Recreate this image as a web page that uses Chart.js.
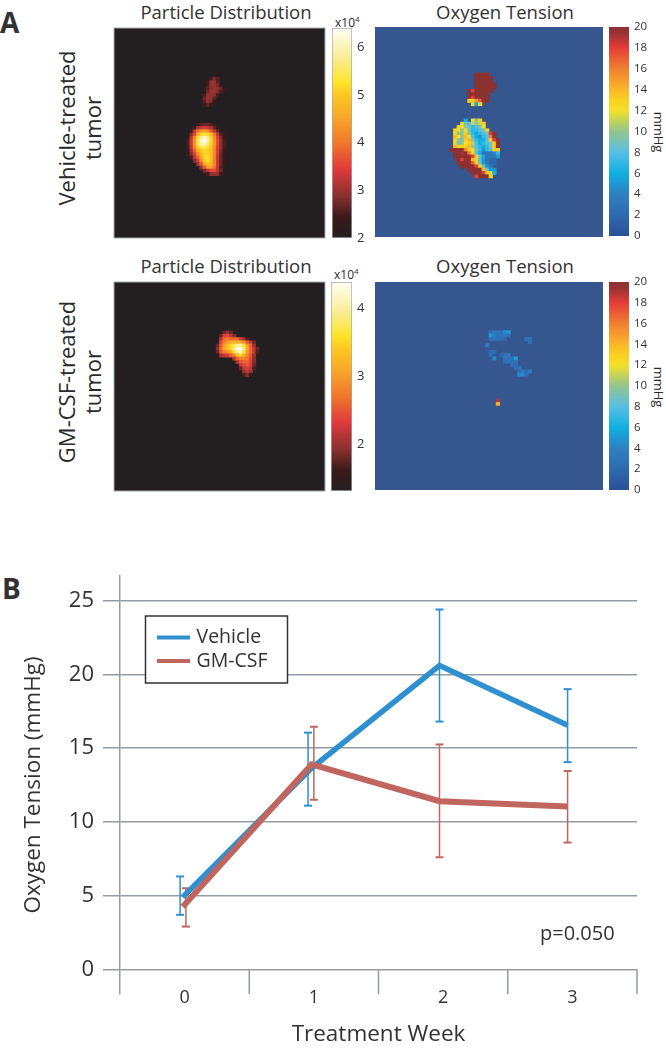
<!DOCTYPE html>
<html>
<head>
<meta charset="utf-8">
<title>Particle distribution and oxygen tension</title>
<script src="https://cdn.jsdelivr.net/npm/chart.js@4"></script>
<style>
    html, body { margin: 0; padding: 0; background: #ffffff; }
    #page { position: relative; width: 666px; height: 1050px; overflow: hidden; background: #ffffff;
            font-family: "Open Sans", sans-serif; color: #2b2a2a; }
    #page canvas { position: absolute; }
    #page canvas.map { filter: blur(0.5px); }
    .note { position: absolute; white-space: nowrap; line-height: 1; }
    .panel { font-size: 28px; font-weight: 700; color: #333132; }
    .side { font-size: 22px; transform: translate(-50%, -50%) rotate(-90deg); }
    .unit { font-size: 13px; transform: translate(-50%, -50%) rotate(90deg); }
    .exp { font-size: 12px; }
    .exp sup { font-size: 8px; line-height: 0; }
    .maptitle { font-size: 18.5px; color: #333132; transform: translate(-50%, -50%); }
</style>
</head>
<body>
<div id="page">
    <div class="note panel" style="left:0px;top:8px">A</div>
    <div class="note panel" style="left:2px;top:574px">B</div>
    <div class="note side" style="left:66px;top:128px">Vehicle-treated</div>
    <div class="note side" style="left:92px;top:128px">tumor</div>
    <div class="note side" style="left:66px;top:382px">GM-CSF-treated</div>
    <div class="note side" style="left:92px;top:382px">tumor</div>
    <div class="note maptitle" style="left:226px;top:12px">Particle Distribution</div>
    <div class="note maptitle" style="left:505px;top:12px">Oxygen Tension</div>
    <div class="note maptitle" style="left:226px;top:265.5px">Particle Distribution</div>
    <div class="note maptitle" style="left:505px;top:265.5px">Oxygen Tension</div>
    <div class="note exp" style="left:335px;top:17px">x10<sup>4</sup></div>
    <div class="note exp" style="left:334px;top:269px">x10<sup>4</sup></div>
    <div class="note unit" style="left:658px;top:132px">mmHg</div>
    <div class="note unit" style="left:658px;top:387px">mmHg</div>
</div>
<script>
// Panel B values
const weeks = [0, 1, 2, 3];
const weekEdges = [0.5, 1.5, 2.5, 3.5];
const tensionTicks = [0, 5, 10, 15, 20, 25];
const vehicleX = [-0.015, 0.983, 1.972, 2.963];
const vehicleTension = [4.9, 13.65, 20.6, 16.55];
const vehicleErrX = [-0.035, 0.955, 1.972, 2.963];
const vehicleErrHigh = [6.3, 16.05, 24.4, 19.0];
const vehicleErrLow = [3.7, 11.1, 16.8, 14.05];
const gmcsfX = [-0.015, 0.983, 1.972, 2.963];
const gmcsfTension = [4.25, 13.9, 11.4, 11.05];
const gmcsfErrX = [0.01, 1.0, 1.972, 2.963];
const gmcsfErrHigh = [5.5, 16.45, 15.25, 13.45];
const gmcsfErrLow = [2.9, 11.5, 7.6, 8.6];

// Panel A colour bar ticks and ranges
const vehicleParticleTicks = [2, 3, 4, 5, 6];
const vehicleParticleRange = [2, 6.41];
const gmcsfParticleTicks = [2, 3, 4];
const gmcsfParticleRange = [1.32, 4.38];
const oxygenTicks = [0, 2, 4, 6, 8, 10, 12, 14, 16, 18, 20];
const oxygenRange = [0, 20];

// Map cells, each row is [row, first column, values...]; the rest of the 64x64 map is background
const vehicleParticleRows = [
    [15, 29, 2.5, 2.8, 2.6],
    [16, 28, 2.5, 2.9, 3.0, 2.6],
    [17, 28, 2.5, 2.9, 3.0, 2.8, 2.4],
    [18, 28, 2.6, 2.9, 3.0, 2.9, 2.7, 2.4],
    [19, 28, 2.7, 3.0, 3.0, 2.8, 2.5],
    [20, 27, 2.5, 2.9, 3.0, 2.9, 2.5],
    [21, 27, 2.7, 3.0, 2.9, 2.6],
    [22, 27, 2.6, 2.9, 2.8, 2.4],
    [23, 27, 2.4, 2.6, 2.4],
    [29, 25, 2.4, 2.6, 2.7, 2.7, 2.6, 2.4],
    [30, 24, 2.5, 3.0, 3.3, 3.4, 3.3, 3.1, 2.7, 2.4],
    [31, 23, 2.5, 3.2, 4.0, 4.4, 4.5, 4.3, 3.8, 3.2, 2.7, 2.3],
    [32, 23, 2.8, 3.6, 4.6, 5.1, 5.4, 5.2, 4.8, 4.1, 3.3, 2.6, 2.3],
    [33, 22, 2.4, 3.2, 4.2, 5.2, 5.8, 6.1, 5.8, 5.1, 4.3, 3.5, 2.8, 2.4],
    [34, 22, 2.5, 3.3, 4.4, 5.4, 6.1, 6.4, 6.0, 5.2, 4.4, 3.6, 2.9, 2.5],
    [35, 22, 2.5, 3.3, 4.3, 5.3, 5.9, 6.1, 5.6, 5.1, 4.4, 3.6, 2.9, 2.5],
    [36, 22, 2.5, 3.2, 4.1, 5.0, 5.4, 5.5, 5.2, 5.0, 4.3, 3.5, 2.9, 2.5],
    [37, 22, 2.4, 3.0, 3.8, 4.6, 5.0, 5.1, 5.1, 4.9, 4.3, 3.5, 2.8, 2.4],
    [38, 22, 2.3, 2.8, 3.5, 4.2, 4.7, 5.1, 5.1, 4.9, 4.2, 3.4, 2.7, 2.3],
    [39, 23, 2.5, 3.2, 3.8, 4.5, 5.1, 5.2, 4.9, 4.2, 3.3, 2.7, 2.3],
    [40, 24, 2.8, 3.4, 4.2, 5.0, 5.2, 4.9, 4.2, 3.3, 2.7, 2.3],
    [41, 25, 3.0, 3.7, 4.6, 5.0, 4.7, 4.2, 3.3, 2.7, 2.3],
    [42, 26, 3.0, 3.8, 4.4, 4.5, 4.0, 3.3, 2.6],
    [43, 27, 2.8, 3.2, 3.6, 3.6, 3.2, 2.7],
    [44, 28, 2.5, 2.9, 3.0, 2.9, 2.5]
];

const vehicleOxygenRows = [
    [14, 28, 20, 20, 20, 20],
    [15, 28, 20, 20, 20, 20, 20],
    [16, 28, 20, 20, 20, 20, 20],
    [17, 28, 20, 20, 20, 20, 20, 20],
    [18, 28, 20, 20, 20, 20, 20, 20],
    [19, 26, 20, 18, 20, 20, 20, 20, 20],
    [20, 26, 20, 20, 20, 20, 20, 20],
    [21, 26, 20, 18, 20, 20, 20, 20],
    [22, 26, 13, 13, 15, 17, 20, 20],
    [23, 27, 13, 6, 13],
    [28, 25, 6],
    [28, 27, 12, 10, 13],
    [29, 24, 13, 9, 8, 11, 10, 11, 13],
    [30, 23, 13, 12, 10, 9, 7, 8, 9, 12],
    [31, 22, 13, 12, 10, 12, 9, 7, 7, 8, 9, 13],
    [32, 22, 13, 10, 10, 13, 10, 7, 6, 7, 8, 9, 18, 20],
    [33, 22, 14, 12, 10, 14, 12, 8, 6, 5, 7, 8, 16, 20],
    [34, 22, 13, 10, 9, 13, 14, 10, 7, 6, 6, 8, 13, 18, 20],
    [35, 22, 13, 9, 10, 12, 13, 11, 8, 6, 7, 8, 9, 13, 20],
    [36, 22, 14, 13, 13, 13, 14, 10, 8, 7, 6, 7, 9, 13, 20],
    [37, 21, 20, 20, 20, 20, 16, 13, 12, 9, 7, 5, 7, 8, 13, 13],
    [38, 22, 20, 20, 19, 20, 16, 13, 8, 6, 3, 3, 3, 4, 7],
    [39, 22, 20, 20, 20, 20, 20, 18, 13, 9, 6, 3, 3, 3, 5],
    [40, 23, 20, 18, 20, 20, 14, 13, 8, 5, 3, 2, 2],
    [41, 23, 20, 20, 20, 20, 17, 13, 9, 5, 3, 2, 2],
    [42, 24, 20, 20, 20, 20, 18, 13, 9, 5, 3],
    [43, 26, 20, 20, 20, 20, 14, 9, 5, 5],
    [44, 27, 20, 20, 20, 18, 13, 13, 6],
    [45, 28, 18, 20, 20, 20, 13]
];

const gmcsfParticleRows = [
    [15, 33, 1.8, 2.0, 1.8],
    [16, 32, 1.8, 2.3, 2.4, 2.2, 1.9],
    [17, 32, 2.1, 2.6, 2.7, 2.6, 2.6, 2.6, 2.3, 2.0, 1.7],
    [18, 32, 2.4, 2.8, 3.0, 3.1, 3.2, 3.2, 3.1, 2.9, 2.5, 2.2, 1.8],
    [19, 31, 1.8, 2.5, 3.0, 3.3, 3.5, 3.7, 4.0, 4.0, 3.6, 3.0, 2.6, 2.0],
    [20, 31, 1.9, 2.6, 3.1, 3.3, 3.5, 3.8, 4.3, 4.38, 3.8, 3.1, 2.6, 2.2, 1.8],
    [21, 31, 1.8, 2.5, 2.8, 2.9, 3.1, 3.6, 4.0, 4.1, 3.6, 3.0, 2.6, 2.2, 1.7],
    [22, 31, 1.6, 2.0, 2.2, 2.3, 2.5, 2.8, 3.3, 3.5, 3.1, 2.8, 2.5, 2.0],
    [23, 36, 2.1, 2.6, 2.8, 2.8, 2.7, 2.4, 1.9],
    [24, 37, 2.1, 2.5, 2.6, 2.6, 2.4, 1.9],
    [25, 38, 2.2, 2.4, 2.5, 2.3, 1.8],
    [26, 38, 1.8, 2.2, 2.3, 2.2, 1.7],
    [27, 39, 2.0, 2.2, 2.0],
    [28, 39, 1.7, 1.9, 1.6]
];

const gmcsfOxygenRows = [
    [15, 32, 2.5, 3, 3, 3, 4.5, 5.5],
    [16, 32, 5.5, 3.5, 3, 3, 3.5, 2.5],
    [17, 32, 3, 3, 2.5, 2.5, 2],
    [17, 42, 2.5, 3],
    [18, 43, 2.5],
    [19, 31, 3.5],
    [21, 32, 2.5, 2.5],
    [22, 32, 2.5],
    [22, 35, 2, 3, 3],
    [23, 33, 4.5],
    [23, 36, 3, 3, 2.5, 5.5],
    [24, 36, 2.5, 3, 2.5, 3],
    [25, 38, 2.5, 2.5],
    [26, 39, 2.5, 3],
    [27, 40, 2.5, 3, 2, 3.5],
    [28, 40, 4.5, 4.5, 2.5],
    [36, 34, 19],
    [37, 34, 14.5]
];

// Colour ramps as [fraction of range, colour]
const hotRamp = [
    [0, '#231f20'], [0.1, '#3a1a1a'], [0.2, '#8a3030'], [0.33, '#e03a3c'], [0.45, '#f0762c'],
    [0.58, '#f9a82a'], [0.68, '#fcc722'], [0.74, '#fde428'], [0.85, '#f8ec90'], [1, '#fffff5']
];
const jetRamp = [
    [0, '#2a4f95'], [0.1, '#2e6ab0'], [0.2, '#2f80c2'], [0.3, '#0fb0e2'], [0.4, '#57bfe6'],
    [0.5, '#93c58c'], [0.6, '#f1e02a'], [0.65, '#fcd021'], [0.7, '#fbb52a'], [0.8, '#f08030'],
    [0.9, '#e53c38'], [0.97, '#9a3232'], [1, '#8c3230']
];

function hexToRgb(hex) {
    return [1, 3, 5].map(i => parseInt(hex.slice(i, i + 2), 16));
}

// Look up a value in a colour ramp
function rampColor(ramp, range, value) {
    const t = Math.min(1, Math.max(0, (value - range[0]) / (range[1] - range[0])));
    for (let i = 1; i < ramp.length; i++) {
        if (t <= ramp[i][0]) {
            const f = (t - ramp[i - 1][0]) / (ramp[i][0] - ramp[i - 1][0]);
            const a = hexToRgb(ramp[i - 1][1]);
            const b = hexToRgb(ramp[i][1]);
            const rgb = a.map((c, k) => Math.round(c + (b[k] - c) * f));
            return `rgb(${rgb[0]},${rgb[1]},${rgb[2]})`;
        }
    }
    return ramp[ramp.length - 1][1];
}

function addCanvas(left, top, width, height, className) {
    const canvas = document.createElement('canvas');
    canvas.width = width;
    canvas.height = height;
    canvas.style.left = left + 'px';
    canvas.style.top = top + 'px';
    canvas.style.width = width + 'px';
    canvas.style.height = height + 'px';
    if (className) canvas.className = className;
    document.getElementById('page').appendChild(canvas);
    return canvas.getContext('2d');
}

// Flat field behind the sparse cells, plus the thin frame some maps have
const mapField = {
    id: 'mapField',
    beforeDatasetsDraw(chart, args, opts) {
        const { ctx, chartArea: a } = chart;
        ctx.save();
        ctx.fillStyle = opts.color;
        ctx.fillRect(a.left, a.top, a.width, a.height);
        ctx.restore();
    },
    afterDatasetsDraw(chart, args, opts) {
        if (!opts.frame) return;
        const { ctx, chartArea: a } = chart;
        ctx.save();
        ctx.strokeStyle = opts.frame;
        ctx.lineWidth = 1;
        ctx.strokeRect(a.left, a.top, a.width, a.height);
        ctx.restore();
    }
};

const mapColumns = Array.from({ length: 64 }, (_, i) => i);

// One 64x64 map; cells are floating bars
function drawMap(cfg) {
    const cells = [];
    cfg.rows.forEach(r => {
        r.slice(2).forEach((v, i) => cells.push({ x: r[1] + i, y: [r[0], r[0] + 1], v: v }));
    });
    new Chart(addCanvas(cfg.left - 2, cfg.top - 2, cfg.width + 4, cfg.height + 4, 'map'), {
        type: 'bar',
        plugins: [mapField],
        data: {
            labels: mapColumns,
            datasets: [{
                data: cells,
                backgroundColor: ctx => rampColor(cfg.ramp, cfg.range, ctx.raw ? ctx.raw.v : cfg.range[0]),
                borderWidth: 0,
                barPercentage: 1,
                categoryPercentage: 1
            }]
        },
        options: {
            responsive: false,
            animation: false,
            layout: { padding: 2 },
            scales: {
                x: { display: false },
                y: { display: false, reverse: true, min: 0, max: 64 }
            },
            plugins: {
                legend: { display: false },
                tooltip: { enabled: false },
                mapField: { color: cfg.field, frame: cfg.frame }
            }
        }
    });
}

// Colour bar with its axis on the right
function drawColorBar(cfg) {
    new Chart(addCanvas(cfg.left, cfg.top - 10, 52, cfg.height + 20), {
        type: 'bar',
        data: {
            labels: [''],
            datasets: [{
                data: [cfg.range],
                borderWidth: cfg.frame ? 1 : 0,
                borderColor: cfg.frame || 'transparent',
                borderSkipped: false,
                barPercentage: 1,
                categoryPercentage: 1,
                backgroundColor: ctx => {
                    const area = ctx.chart.chartArea;
                    if (!area) return cfg.ramp[0][1];
                    const g = ctx.chart.ctx.createLinearGradient(0, area.bottom, 0, area.top);
                    cfg.ramp.forEach(s => g.addColorStop(s[0], s[1]));
                    return g;
                }
            }]
        },
        options: {
            responsive: false,
            animation: false,
            layout: { padding: { top: 10, bottom: 10 } },
            scales: {
                x: { display: false },
                y: {
                    position: 'right',
                    min: cfg.range[0],
                    max: cfg.range[1],
                    afterFit: axis => {
                        axis.width = 52 - cfg.barWidth;
                        axis.paddingTop = 0;
                        axis.paddingBottom = 0;
                    },
                    afterBuildTicks: axis => { axis.ticks = cfg.ticks.map(v => ({ value: v })); },
                    grid: { display: false, drawTicks: false },
                    border: { display: false },
                    ticks: {
                        color: '#333132',
                        padding: 5,
                        font: { family: '"Open Sans"', size: cfg.tickSize }
                    }
                }
            },
            plugins: { legend: { display: false }, tooltip: { enabled: false } }
        }
    });
}

drawMap({ rows: vehicleParticleRows, ramp: hotRamp, range: vehicleParticleRange, field: '#231f20', frame: '#a7a9ac',
    left: 114, top: 28, width: 211, height: 210 });
drawMap({ rows: vehicleOxygenRows, ramp: jetRamp, range: oxygenRange, field: '#35568f',
    left: 375, top: 27, width: 228, height: 210 });
drawMap({ rows: gmcsfParticleRows, ramp: hotRamp, range: gmcsfParticleRange, field: '#231f20', frame: '#a7a9ac',
    left: 114, top: 282, width: 211, height: 209 });
drawMap({ rows: gmcsfOxygenRows, ramp: jetRamp, range: oxygenRange, field: '#35568f',
    left: 375, top: 282, width: 228, height: 208 });

drawColorBar({ left: 332, top: 28, height: 210, barWidth: 20, tickSize: 13, ramp: hotRamp, range: vehicleParticleRange, ticks: vehicleParticleTicks, frame: '#a7a9ac' });
drawColorBar({ left: 609, top: 27, height: 209, barWidth: 20, tickSize: 11.5, ramp: jetRamp, range: oxygenRange, ticks: oxygenTicks });
drawColorBar({ left: 331, top: 282, height: 209, barWidth: 21, tickSize: 13, ramp: hotRamp, range: gmcsfParticleRange, ticks: gmcsfParticleTicks, frame: '#a7a9ac' });
drawColorBar({ left: 609, top: 282, height: 208, barWidth: 20, tickSize: 11.5, ramp: jetRamp, range: oxygenRange, ticks: oxygenTicks });

// Panel B: week separators under zero, legend box and the p value
const gridGray = '#939ba3';
const seriesNames = ['Vehicle', 'GM-CSF'];
const seriesColors = ['#2f8fcf', '#c0665f'];

const panelExtras = {
    id: 'panelExtras',
    afterDatasetsDraw(chart) {
        const { ctx, scales, chartArea } = chart;
        ctx.save();
        ctx.strokeStyle = gridGray;
        ctx.lineWidth = 1.5;
        weekEdges.forEach(w => {
            const px = scales.x.getPixelForValue(w);
            ctx.beginPath();
            ctx.moveTo(px, scales.y.getPixelForValue(0));
            ctx.lineTo(px, chartArea.bottom);
            ctx.stroke();
        });

        ctx.fillStyle = '#ffffff';
        ctx.strokeStyle = '#333132';
        ctx.fillRect(145.5, 56, 142, 67);
        ctx.strokeRect(145.5, 56, 142, 67);
        ctx.font = '19.5px "Open Sans"';
        ctx.textBaseline = 'middle';
        seriesNames.forEach((name, i) => {
            const y = 77.5 + i * 23.5;
            ctx.strokeStyle = seriesColors[i];
            ctx.lineWidth = 4;
            ctx.beginPath();
            ctx.moveTo(157, y);
            ctx.lineTo(190, y);
            ctx.stroke();
            ctx.fillStyle = '#333132';
            ctx.fillText(name, 196.5, y);
        });

        ctx.font = '20px "Open Sans"';
        ctx.fillText('p=0.050', 540, 374);
        ctx.restore();
    }
};

// One error bar per week, broken up by null points
function errorBars(xs, highs, lows, color) {
    const points = [];
    xs.forEach((x, i) => {
        points.push({ x: x, y: highs[i] }, { x: x, y: lows[i] }, { x: x, y: null });
    });
    return {
        data: points,
        borderColor: color,
        backgroundColor: color,
        borderWidth: 1.5,
        pointStyle: 'line',
        pointRadius: 4,
        pointBorderWidth: 2,
        pointBorderColor: color,
        spanGaps: false,
        order: 3
    };
}

new Chart(addCanvas(0, 560, 666, 490), {
    type: 'line',
    plugins: [panelExtras],
    data: {
        datasets: [
            errorBars(vehicleErrX, vehicleErrHigh, vehicleErrLow, seriesColors[0]),
            errorBars(gmcsfErrX, gmcsfErrHigh, gmcsfErrLow, seriesColors[1]),
            {
                label: seriesNames[0],
                data: vehicleX.map((x, i) => ({ x: x, y: vehicleTension[i] })),
                borderColor: seriesColors[0],
                borderWidth: 5.5,
                pointRadius: 0,
                order: 2
            },
            {
                label: seriesNames[1],
                data: gmcsfX.map((x, i) => ({ x: x, y: gmcsfTension[i] })),
                borderColor: seriesColors[1],
                borderWidth: 6,
                pointRadius: 0,
                order: 1
            }
        ]
    },
    options: {
        responsive: false,
        animation: false,
        layout: { padding: { top: 16, right: 29 } },
        scales: {
            x: {
                type: 'linear',
                min: -0.5,
                max: 3.5,
                afterFit: axis => { axis.height = 56; },
                afterBuildTicks: axis => { axis.ticks = weeks.map(v => ({ value: v })); },
                grid: { display: false, drawTicks: false },
                border: { display: false },
                ticks: {
                    color: '#333132',
                    // mirror keeps the labels from being clipped to the axis box
                    mirror: true,
                    padding: -15,
                    maxRotation: 0,
                    font: { family: '"Open Sans"', size: 18 }
                },
                title: {
                    display: true,
                    text: 'Treatment Week',
                    color: '#333132',
                    padding: { top: 0, bottom: 2 },
                    font: { family: '"Open Sans"', size: 22.5 }
                }
            },
            y: {
                min: -1.67,
                max: 26.67,
                afterFit: axis => {
                    axis.width = 120;
                    axis.paddingTop = 0;
                    axis.paddingBottom = 0;
                },
                afterBuildTicks: axis => { axis.ticks = tensionTicks.map(v => ({ value: v })); },
                grid: { color: gridGray, lineWidth: 1.5, tickLength: 17, tickColor: gridGray },
                border: { display: true, color: gridGray, width: 1.5 },
                ticks: {
                    color: '#333132',
                    padding: 9,
                    font: { family: '"Open Sans"', size: 22 }
                },
                title: {
                    display: true,
                    text: 'Oxygen Tension (mmHg)',
                    color: '#333132',
                    padding: { top: 20, bottom: 0 },
                    font: { family: '"Open Sans"', size: 22.5 }
                }
            }
        },
        plugins: { legend: { display: false }, tooltip: { enabled: false } }
    }
});
</script>
</body>
</html>
